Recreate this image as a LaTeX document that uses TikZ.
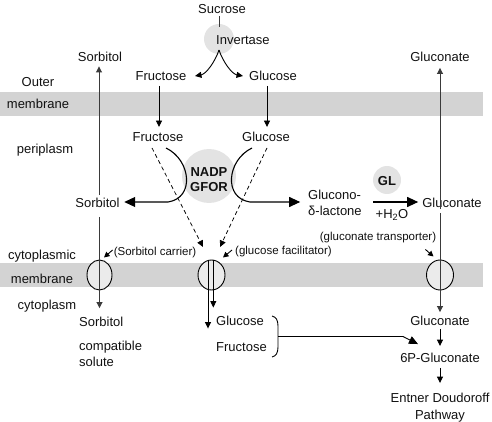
\documentclass[tikz,border=0pt]{standalone}
\usepackage{fontspec}
\setmainfont{Liberation Sans}
\usetikzlibrary{arrows.meta,calc,shapes.geometric}
\definecolor{bandc}{HTML}{D3D3D3}
\definecolor{blobc}{HTML}{E3E3E3}
\definecolor{ellc}{HTML}{EBEBEB}
\definecolor{txtc}{HTML}{111111}
\definecolor{glc}{HTML}{3A3A3A}
\tikzset{
  lab/.style={font=\fontsize{13}{15}\selectfont, inner sep=0pt, text height=9.5pt, text depth=0pt, text=txtc},
  slab/.style={font=\fontsize{11.5}{13}\selectfont, inner sep=0pt, text height=8.4pt, text depth=0pt, text=txtc},
  blab/.style={font=\bfseries\fontsize{13}{15.5}\selectfont, inner sep=0pt, align=center, text=txtc},
  arr/.style={-{Triangle[length=6.5pt,width=6pt]}, line width=0.9pt},
  sarr/.style={-{Triangle[length=6pt,width=6pt]}, line width=0.9pt},
  bigarr/.style={-{Triangle[length=11pt,width=10pt]}, line width=1.1pt},
  dsh/.style={dash pattern=on 4pt off 3pt, -{Triangle[length=6.5pt,width=6pt]}, line width=0.75pt},
  blob/.style={circle, fill=blobc, inner sep=0pt},
  porin/.style={ellipse, draw, fill=ellc, line width=0.9pt, minimum width=26pt, minimum height=30pt, inner sep=0pt},
  gline/.style={draw=glc, line width=1pt}
}
\begin{document}
\begin{tikzpicture}[x=1pt,y=-1pt]
\path[use as bounding box] (0,0) rectangle (492,422);
% membranes
\fill[bandc] (0,92) rectangle (483,116);
\fill[bandc] (0,263) rectangle (483,287);
% side labels
\node[lab] (outer) at (38,82) {Outer};
\node[lab] (mem1) at (38,104) {membrane};
\node[lab] (peri) at (45,149) {periplasm};
\node[lab] (cytm) at (42,255) {cytoplasmic};
\node[lab] (mem2) at (42,279) {membrane};
\node[lab] (cyto) at (47,305) {cytoplasm};
% invertase
\node[blob, minimum size=30pt] (invC) at (219,39) {};
\node[lab] (suc) at (222,9) {Sucrose};
\node[lab, anchor=west] (inv) at (216,40) {Invertase};
\coordinate (split) at (219,50);
\node[lab] (fruO) at (161,76) {Fructose};
\node[lab] (gluO) at (273,76) {Glucose};
\coordinate (invL) at (195,76);
\coordinate (invR) at (243,76);
\draw[line width=0.9pt, draw=glc] ($(suc.south -| invC.center)+(0,2)$) -- ($(invC.north)+(0,3)$);
\draw[arr] (split) .. controls (215,62) and (206,74) .. (invL);
\draw[arr] (split) .. controls (223,62) and (232,74) .. (invR);
% outer
\node[lab] (sorbO) at (100,57) {Sorbitol};
\node[lab] (gcnO) at (440,57) {Gluconate};
% periplasm
\node[lab] (fruP) at (158,137) {Fructose};
\node[lab] (gluP) at (266,137) {Glucose};
\draw[arr] ($(fruO.south)+(-2,5)$) -- ($(fruO.south |- fruP.north)+(-2,-5)$);
\draw[arr] ($(gluO.south)+(-6,5)$) -- ($(gluO.south |- gluP.north)+(-6,-5)$);
\node[blob, minimum size=54pt] (gfor) at (209,176) {};
\node[blab] (gfortxt) at (209,179.5) {NADP\\GFOR};
\node[lab] (sorbP) at (97.5,203) {Sorbitol};
\node[lab, anchor=west] (lac) at (308,194.5) {Glucono-};
\node[lab, anchor=west] (lac2) at (308,211) {δ-lactone};
\node[blob, minimum size=28pt] (gl) at (387,180) {};
\node[blab] (gltxt) at (387,181) {GL};
\node[lab] (gcnP) at (452,203) {Gluconate};
\node[lab] (h2o) at (392,214) {+H\textsubscript{2}O};
\coordinate (fcs) at (166,148);
\coordinate (fce) at (168,202);
\coordinate (gcs) at (252,148);
\coordinate (gce) at (250,202);
\draw[bigarr] (fcs) .. controls (191,160) and (195,198) .. (fce) -- ($(sorbP.east)+(4.5,-1)$);
\draw[bigarr] (gcs) .. controls (227,160) and (223,198) .. (gce) -- ($(gcnP.west)+(-122,-1)$);
\draw[bigarr] ($(lac.east)+(12,7.5)$) -- ($(gcnP.west)+(-4,-1)$);
% sorbitol / gluconate vertical lines
\draw[gline, sarr] ($(sorbP.north -| sorbO.south)+(-1,-3)$) -- ($(sorbO.south)+(-1,4.5)$);
\draw[gline, sarr] ($(gcnP.north -| gcnO.south)+(0,11)$) -- ($(gcnO.south)+(0,6)$);
% cytoplasmic membrane porins
\node[porin, minimum width=25pt] (sorbE) at (99.5,275) {};
\node[porin, minimum width=27pt] (gluE) at (211.5,275) {};
\node[porin, minimum width=27pt] (gcnE) at (440,275) {};
% cytoplasm
\node[lab, anchor=west] (sorbC) at (79,322) {Sorbitol};
\node[lab, anchor=west] (comp) at (79,346) {compatible};
\node[lab, anchor=west] (solu) at (79,362) {solute};
\node[lab, anchor=west] (gluC) at (216,321) {Glucose};
\node[lab, anchor=west] (fruC) at (216,347) {Fructose};
\node[lab] (gcnC) at (440,321) {Gluconate};
\node[lab] (sixP) at (440,358) {6P-Gluconate};
\node[lab] (ed) at (440,398) {Entner Doudoroff};
\node[lab] (pw) at (440,415) {Pathway};
\draw[gline, sarr] ($(sorbP.south -| sorbE.center)+(0,9)$) -- ($(sorbC.north -| sorbE.center)+(0,-9)$);
\draw[gline, sarr] ($(gcnP.south -| gcnE.center)+(0,5)$) -- ($(gcnC.north)+(0,-4)$);
\draw[arr] ($(gluE.north)+(-3.5,0)$) -- ($(gluE.north)+(-3.5,69)$);
\draw[arr] ($(gluE.north)+(1.8,0)$) -- ($(gluE.north)+(1.8,48)$);
\draw[arr] ($(gcnC.south)+(0,3)$) -- ($(sixP.north)+(0,-7)$);
\draw[arr] ($(sixP.south)+(0,5)$) -- ($(ed.north)+(0,-10)$);
% dashed transport
\coordinate (dL) at (203,247);
\coordinate (dR) at (220,247);
\draw[dsh] ($(fruP.south)+(-6,6)$) -- (dL);
\draw[dsh] ($(gluP.south)+(1,6)$) -- (dR);
% transporter labels
\node[slab] (scar) at (155,251) {(Sorbitol carrier)};
\node[slab, anchor=west] (gfac) at (235,250) {(glucose facilitator)};
\node[slab] (gtr) at (378,236) {(gluconate transporter)};
\draw[sarr, -{Triangle[length=5.5pt,width=5.5pt]}] ($(scar.west)+(-1,-1)$) -- (104,257.5);
\draw[sarr, -{Triangle[length=5.5pt,width=5.5pt]}] ($(gfac.west)+(-3,0)$) -- (223,257.5);
\draw[sarr, -{Triangle[length=5.5pt,width=5.5pt]}] ($(gtr.south east)+(-11,9)$) -- (433.5,256.5);
% brace to 6P-gluconate
\coordinate (bt) at (272,316);
\coordinate (bb) at (272,357);
\coordinate (bm) at (278,336.5);
\coordinate (bk) at (403,336.5);
\coordinate (btip) at ($(sixP.north)+(-22,-9)$);
\draw[line width=0.9pt] (bt) .. controls (276,317) and (278,320) .. (278,326) -- (278,347) .. controls (278,353) and (276,356) .. (bb);
\draw[line width=0.9pt, -{Triangle[length=9pt,width=8pt]}] (bm) -- (bk) -- (btip);
\end{tikzpicture}
\end{document}
